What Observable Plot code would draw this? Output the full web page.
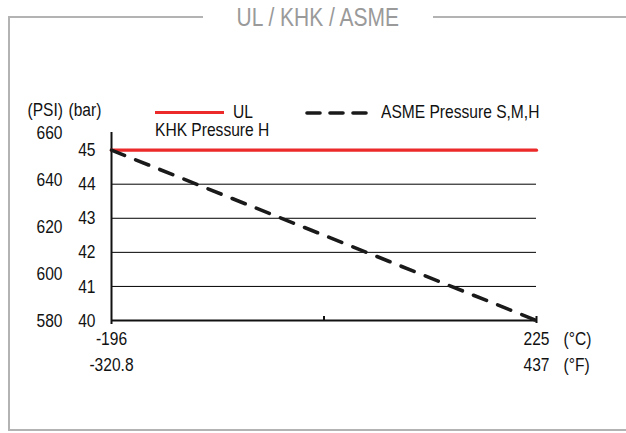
<!DOCTYPE html>
<html>
<head>
<meta charset="utf-8">
<script src="https://cdn.jsdelivr.net/npm/d3@7"></script>
<script src="https://cdn.jsdelivr.net/npm/@observablehq/plot@0.6"></script>
<style>
  html, body { margin: 0; padding: 0; background: #fff; }
  #wrap { position: relative; width: 626px; height: 433px; overflow: hidden; font-family: 'Liberation Sans', Arial, sans-serif; }
  #border { position: absolute; left: 8px; top: 16px; width: 700px; height: 415px; box-sizing: border-box; border: 2px solid #b3b3b3; border-right: none; }
  #title { position: absolute; left: 203px; width: 230px; top: 2px; line-height: 30px; font-size: 25px; color: #9a9a9a; text-align: center; background: #fff; }
  #title span { display: inline-block; transform: scaleX(0.84); transform-origin: center; white-space: nowrap; }
  #chart { position: absolute; left: 0; top: 0; }
  .lg { position: absolute; font-size: 19px; line-height: 15px; color: #111; white-space: nowrap; transform: scaleX(0.82); transform-origin: left center; }
</style>
</head>
<body>
<div id="wrap">
  <div id="border"></div>
  <div id="title"><span>UL / KHK / ASME</span></div>
  <div id="chart"></div>
  <div id="legend"></div>
</div>
<script>
// ---- data ----
const temps = [-196, 225];          // °C
const tempsF = [-320.8, 437];       // °F
const ulPressure = [45, 45];        // bar  (UL / KHK Pressure H)
const asmePressure = [45, 40];      // bar  (ASME Pressure S,M,H)
const barTicks = [40, 41, 42, 43, 44, 45];
const gridBars = [41, 42, 43, 44];
const psiTicks = [580, 600, 620, 640, 660];
const midTick = [14.5];
const seriesNames = ["UL", "KHK Pressure H", "ASME Pressure S,M,H"];
const PSI_PER_BAR = 14.5;

const RED = "#ec2a2a";
const INK = "#111";
const FONT = "'Liberation Sans', Arial, sans-serif";

const ul = temps.map((t, i) => ({t, p: ulPressure[i]}));
const asme = temps.map((t, i) => ({t, p: asmePressure[i]}));
const xLab = temps.map((c, i) => ({c, f: tempsF[i]}));

const chart = Plot.plot({
  width: 626, height: 433,
  marginLeft: 111, marginRight: 90, marginTop: 132, marginBottom: 113,
  x: {domain: [temps[0], temps[1]], axis: null},
  y: {domain: [40, 660 / PSI_PER_BAR], axis: null},
  style: {fontFamily: FONT, fontSize: "19px", color: INK, background: "transparent"},
  marks: [
    Plot.ruleY(gridBars, {stroke: "#000", strokeWidth: 1}),
    Plot.ruleY([barTicks[0]], {stroke: INK, strokeWidth: 2}),
    Plot.ruleX([temps[0]], {stroke: INK, strokeWidth: 2, insetBottom: -4}),
    Plot.ruleX(midTick, {stroke: INK, strokeWidth: 2, insetTop: 184}),
    Plot.ruleX([temps[1]], {stroke: INK, strokeWidth: 2, insetTop: 184, insetBottom: -3}),
    Plot.line(ul, {x: "t", y: "p", stroke: RED, strokeWidth: 3.2}),
    Plot.line(asme, {x: "t", y: "p", stroke: "#1a1a1a", strokeWidth: 3.6, strokeDasharray: "14,12", strokeLinecap: "round"}),
    Plot.text(barTicks, {y: d => d, text: d => String(d), frameAnchor: "left", dx: -16, textAnchor: "end", fill: INK}),
    Plot.text(psiTicks, {y: d => d / PSI_PER_BAR, text: d => String(d), frameAnchor: "left", dx: -49, textAnchor: "end", fill: INK}),
    Plot.text(xLab, {x: "c", text: d => String(d.c), frameAnchor: "bottom", dy: 24, fill: INK}),
    Plot.text(xLab, {x: "c", text: d => String(d.f), frameAnchor: "bottom", dy: 50, fill: INK}),
    Plot.text(["(°C)"], {text: d => d, frameAnchor: "bottom-right", dx: 27, dy: 24, textAnchor: "start", fill: INK}),
    Plot.text(["(°F)"], {text: d => d, frameAnchor: "bottom-right", dx: 27, dy: 50, textAnchor: "start", fill: INK}),
    Plot.text(["(PSI)"], {text: d => d, frameAnchor: "top-left", dx: -84, dy: -30, textAnchor: "start", fill: INK}),
    Plot.text(["(bar)"], {text: d => d, frameAnchor: "top-left", dx: -43, dy: -30, textAnchor: "start", fill: INK})
  ]
});
document.getElementById("chart").appendChild(chart);

// condense the text horizontally (narrow face look) around each text's own anchor
chart.querySelectorAll("text").forEach(el => {
  const b = el.getBBox();
  const anchor = getComputedStyle(el).textAnchor;
  const ax = anchor === "end" ? b.x + b.width : anchor === "middle" ? b.x + b.width / 2 : b.x;
  const t = el.getAttribute("transform") || "";
  el.setAttribute("transform", `${t} translate(${ax},0) scale(0.82,1) translate(${-ax},0)`);
});

// legend
const lg = document.getElementById("legend");
lg.innerHTML = `
  <div style="position:absolute;left:155px;top:111px;width:69px;height:3px;background:${RED}"></div>
  <div class="lg" style="left:233px;top:104px">${seriesNames[0]}</div>
  <div class="lg" style="left:155px;top:122px">${seriesNames[1]}</div>
  <svg style="position:absolute;left:300px;top:106px" width="80" height="14">
    <line x1="7" y1="7" x2="73" y2="7" stroke="#1a1a1a" stroke-width="3.6" stroke-dasharray="13,10" stroke-linecap="round"/>
  </svg>
  <div class="lg" style="left:381px;top:104px">${seriesNames[2]}</div>
`;
</script>
</body>
</html>
